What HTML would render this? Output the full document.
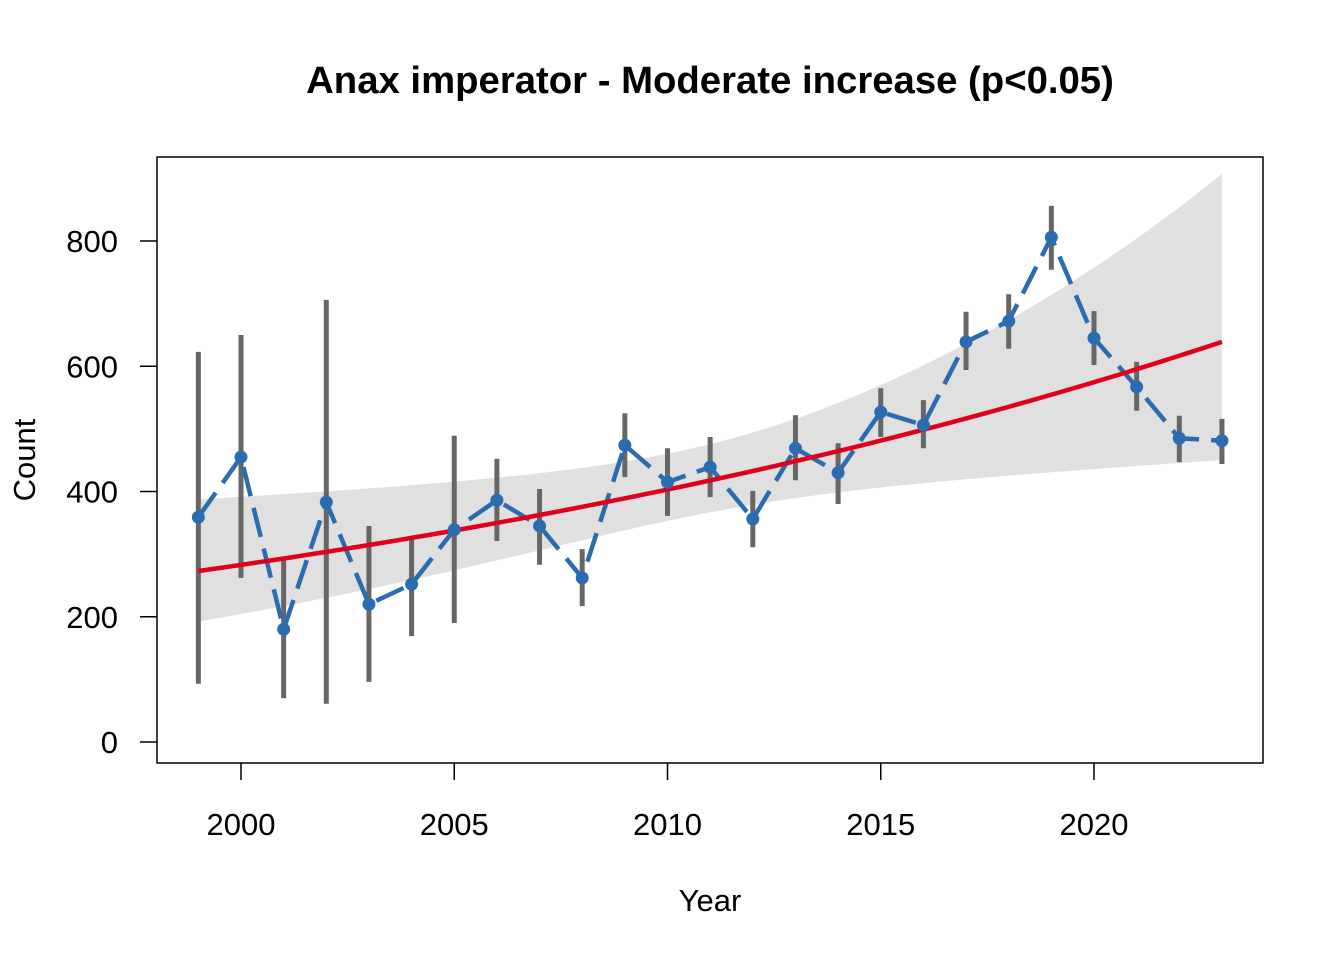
<!DOCTYPE html>
<html><head><meta charset="utf-8"><style>
body{margin:0;background:#fff}
svg text{font-family:"Liberation Sans",Arial,sans-serif;fill:#000}
</style></head><body>
<svg id="chart" width="1344" height="960" xmlns="http://www.w3.org/2000/svg">
<rect width="1344" height="960" fill="#fff"/>
<text x="710" y="93" text-anchor="middle" font-size="38.3" font-weight="bold">Anax imperator - Moderate increase (p&lt;0.05)</text>
<g id="plot"></g>
<rect x="157" y="157" width="1106" height="606" fill="none" stroke="#000" stroke-width="1.5"/>
<text x="710" y="911" text-anchor="middle" font-size="31">Year</text>
<text transform="translate(35,460) rotate(-90)" text-anchor="middle" font-size="31">Count</text>
</svg>
<script>
const years=[1999,2000,2001,2002,2003,2004,2005,2006,2007,2008,2009,2010,2011,2012,2013,2014,2015,2016,2017,2018,2019,2020,2021,2022,2023];
const counts=[359,455,180,383,220,252,339,386,345,262,474,415,439,356,469,430,527,506,639,672,806,645,567,485,481];
const ciLow=[93,262,70,61,96,169,190,321,283,217,423,361,391,311,418,380,487,469,594,628,754,602,529,447,444];
const ciHigh=[623,650,290,706,345,329,489,452,404,308,525,469,487,401,522,477,565,546,687,715,856,688,607,521,516];
const trendStart=273, trendEnd=639;
const seCenter=0.13, seSlope=0.0271;
const xTicks=[2000,2005,2010,2015,2020];
const yTicks=[0,200,400,600,800];

const NS="http://www.w3.org/2000/svg";
const g=document.getElementById('plot');
const X=v=>241+(v-2000)*42.65;
const Y=v=>742-v*0.62625;
function mk(t,a){const e=document.createElementNS(NS,t);for(const k in a)e.setAttribute(k,a[k]);g.appendChild(e);return e;}
const y0=years[0], yN=years[years.length-1], tc=(y0+yN)/2;
const lr=Math.log(trendEnd/trendStart)/(yN-y0);
const fit=t=>trendStart*Math.exp(lr*(t-y0));
const se=t=>Math.sqrt(seCenter*seCenter+seSlope*seSlope*(t-tc)*(t-tc));
let up=[],lo=[],ln=[];
for(let t=y0;t<=yN+1e-9;t+=0.25){up.push(X(t)+','+Y(fit(t)*Math.exp(se(t))));lo.unshift(X(t)+','+Y(fit(t)/Math.exp(se(t))));ln.push(X(t)+','+Y(fit(t)));}
let e=mk('polygon',{points:up.concat(lo).join(' '),fill:'#e0e0e0'});


years.forEach((yr,i)=>{const b=mk('line',{x1:X(yr),x2:X(yr),y1:Y(ciLow[i]),y2:Y(ciHigh[i]),stroke:'#666',"stroke-width":5});

});
e=mk('polyline',{points:years.map((yr,i)=>X(yr)+','+Y(counts[i])).join(' '),fill:'none',stroke:'#2b6cb0',"stroke-width":4.5,"stroke-dasharray":"30,12"});


e=mk('polyline',{points:ln.join(' '),fill:'none',stroke:'#e0001b',"stroke-width":4.5});


years.forEach((yr,i)=>{const c=mk('circle',{cx:X(yr),cy:Y(counts[i]),r:6.5,fill:'#2b6cb0'});

});
xTicks.forEach(v=>{const l=mk('line',{x1:X(v),x2:X(v),y1:763,y2:780,stroke:'#000',"stroke-width":1.5});


const t=mk('text',{x:X(v),y:835,"text-anchor":"middle","font-size":31});t.textContent=v;

});
yTicks.forEach(v=>{const l=mk('line',{x1:140,x2:157,y1:Y(v),y2:Y(v),stroke:'#000',"stroke-width":1.5});


const t=mk('text',{x:118,y:Y(v)+11,"text-anchor":"end","font-size":31});t.textContent=v;

});
</script>
</body></html>
